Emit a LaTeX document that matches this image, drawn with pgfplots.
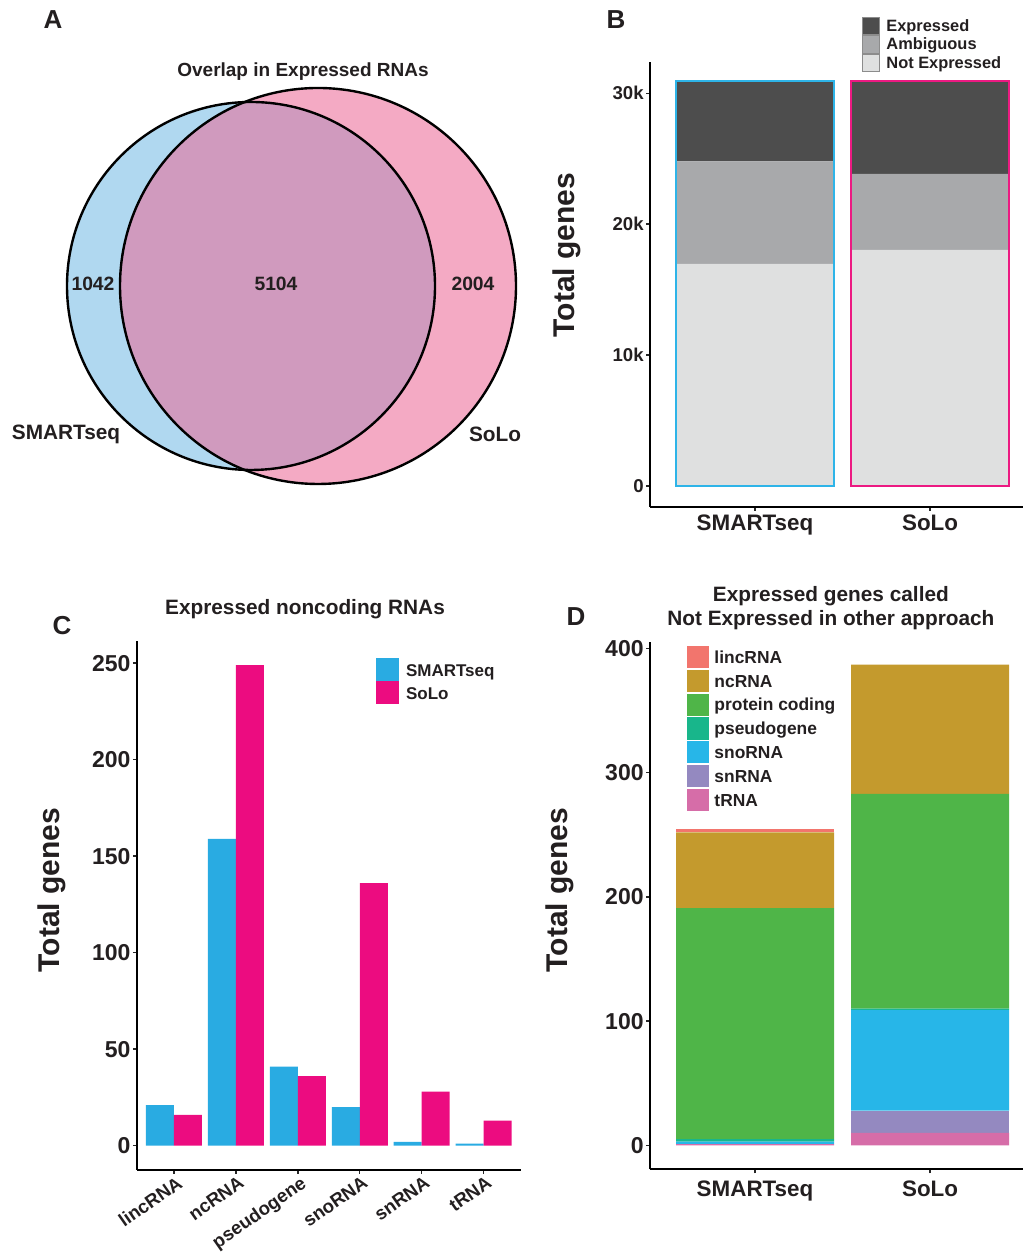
\documentclass[border=0pt]{standalone}
\usepackage{fontspec}
\setmainfont{Liberation Sans}
\usepackage{pgfplots}
\pgfplotsset{compat=1.18}
\definecolor{txt}{HTML}{231F20}
\definecolor{vblue}{RGB}{176,216,240}
\definecolor{vpink}{RGB}{244,170,196}
\definecolor{vover}{RGB}{208,154,190}
\definecolor{expr}{HTML}{4D4D4D}
\definecolor{ambi}{HTML}{A8A9AB}
\definecolor{notexp}{HTML}{DFE0E0}
\definecolor{smblue}{HTML}{29ABE2}
\definecolor{slpink}{HTML}{EC0C80}
\definecolor{oblue}{HTML}{2EB4E8}
\definecolor{opink}{HTML}{EC1A82}
\definecolor{clinc}{HTML}{F2756D}
\definecolor{cnc}{HTML}{C49A2D}
\definecolor{cprot}{HTML}{4FB548}
\definecolor{cpseudo}{HTML}{18B68B}
\definecolor{csno}{HTML}{27B6E8}
\definecolor{csn}{HTML}{9489C0}
\definecolor{ct}{HTML}{D66DA8}
\pgfplotsset{
  ggaxis/.style={
    scale only axis, anchor=south west,
    axis lines=left, axis line style={-, line width=0.9pt, black},
    tick align=outside, major tick length=2pt,
    tick style={line width=0.7pt, black!85},
    every tick label/.append style={text=txt},
    /pgf/number format/assume math mode=true,
    scaled ticks=false,
    every axis title shift=0pt,
    label style={font=\bfseries\fontsize{15}{18}\selectfont, text=txt},
    title style={font=\bfseries\fontsize{10.4}{12}\selectfont, text=txt, align=center},
  }
}
\begin{document}
\begin{tikzpicture}
\useasboundingbox (0,0) rectangle (512pt,626.5pt);

% ---------------- Panel A : Venn ----------------
\begin{axis}[scale only axis, anchor=south west, at={(0pt,376.5pt)},
  width=265pt, height=250pt, xmin=0, xmax=530, ymin=753, ymax=1253,
  hide axis, clip=false]
\pgfplotsextra{
  \fill[vblue] (axis cs:251,967) circle[radius=92pt];
  \fill[vpink] (axis cs:318,967) circle[radius=99pt];
  \begin{scope}
    \clip (axis cs:251,967) circle[radius=92pt];
    \fill[vover] (axis cs:318,967) circle[radius=99pt];
  \end{scope}
  \draw[line width=1.2pt] (axis cs:251,967) circle[radius=92pt];
  \draw[line width=1.2pt] (axis cs:318,967) circle[radius=99pt];
}
\node[font=\bfseries\fontsize{9.5}{11}\selectfont, text=txt] at (axis cs:303,1181) {Overlap in Expressed RNAs};
\node[font=\bfseries\fontsize{9.65}{11}\selectfont, text=txt] at (axis cs:93,969) {1042};
\node[font=\bfseries\fontsize{9.65}{11}\selectfont, text=txt] at (axis cs:276,969) {5104};
\node[font=\bfseries\fontsize{9.65}{11}\selectfont, text=txt] at (axis cs:473,969) {2004};
\node[font=\bfseries\fontsize{10.4}{12}\selectfont, text=txt] at (axis cs:66,819) {SMARTseq};
\node[font=\bfseries\fontsize{10.4}{12}\selectfont, text=txt] at (axis cs:495,819) {SoLo};
\end{axis}

% ---------------- Panel B ----------------
\begin{axis}[ggaxis, at={(325pt,373pt)}, width=186.5pt, height=222.5pt,
  xmin=0.4, xmax=2.531, ymin=-1604, ymax=32391,
  ybar stacked, bar width=79pt,
  xtick={1,2}, xticklabels={SMARTseq,SoLo},
  ytick={0,10000,20000,30000}, yticklabels={0,10k,20k,30k},
  xticklabel style={font=\bfseries\fontsize{11.2}{13}\selectfont, yshift=1.5pt},
  yticklabel style={font=\bfseries\fontsize{9.3}{11}\selectfont, inner sep=1pt},
  ylabel={Total genes},
  ylabel style={at={(axis description cs:-0.2225,0.566)}, anchor=center},
  reverse legend, legend cell align=left,
  legend style={at={(axis description cs:0.5676,1.1018)}, anchor=north west,
    draw=none, fill=none, inner sep=0pt, row sep=0pt,
    font=\bfseries\fontsize{8.2}{9}\selectfont, text=txt,
    nodes={inner sep=0pt, text height=7pt, text depth=1.65pt},
    /tikz/every odd column/.append style={column sep=3.15pt}},
  legend image code/.code={\draw[#1, draw=black!45, line width=0.5pt] (0pt,-4.325pt) rectangle (8.5pt,4.325pt);}
]
\addplot[fill=notexp, draw=none] coordinates {(1,16960) (2,18030)};
\addplot[fill=ambi, draw=none] coordinates {(1,7844) (2,5812)};
\addplot[fill=expr, draw=none] coordinates {(1,6146) (2,7108)};
\legend{Not Expressed, Ambiguous, Expressed}
\end{axis}
\begin{axis}[scale only axis, anchor=south west, at={(325pt,373pt)}, width=186.5pt, height=222.5pt,
  xmin=0.4, xmax=2.531, ymin=-1604, ymax=32391, hide axis, ybar, bar width=79pt]
\addplot[draw=oblue, fill=none, line width=1pt, bar shift=0pt] coordinates {(1,30950)};
\addplot[draw=opink, fill=none, line width=1pt, bar shift=0pt] coordinates {(2,30950)};
\end{axis}

% ---------------- Panel C ----------------
\begin{axis}[ggaxis, at={(68.4pt,41.65pt)}, width=192pt, height=264.35pt,
  xmin=0.4, xmax=6.6, ymin=-12.45, ymax=261.45,
  ybar=0pt, bar width=14pt,
  xtick={1,2,3,4,5,6}, xticklabels={lincRNA,ncRNA,pseudogene,snoRNA,snRNA,tRNA},
  xticklabel style={rotate=35, anchor=north east, inner sep=1pt, xshift=1.5pt,
    font=\bfseries\fontsize{9.3}{10}\selectfont},
  ytick={0,50,100,150,200,250},
  yticklabel style={font=\bfseries\fontsize{11.5}{13}\selectfont, inner sep=1pt},
  ylabel={Total genes},
  ylabel style={at={(axis description cs:-0.221,0.529)}, anchor=center},
  title={Expressed noncoding RNAs},
  title style={at={(axis description cs:0.438,1.0605)}, anchor=center},
  legend cell align=left,
  legend style={at={(axis description cs:0.623,0.968)}, anchor=north west,
    draw=none, fill=none, inner sep=0pt, row sep=0pt,
    font=\bfseries\fontsize{8.5}{10}\selectfont, text=txt,
    nodes={inner sep=0pt, text height=9pt, text depth=2.5pt},
    /tikz/every odd column/.append style={column sep=3.3pt}},
  legend image code/.code={\draw[#1, draw=none] (0pt,-5.75pt) rectangle (11.5pt,5.75pt);}
]
\addplot[fill=smblue, draw=none] coordinates {(1,21) (2,159) (3,41) (4,20) (5,2) (6,1)};
\addplot[fill=slpink, draw=none] coordinates {(1,16) (2,249) (3,36) (4,136) (5,28) (6,13)};
\legend{SMARTseq, SoLo}
\end{axis}

% ---------------- Panel D ----------------
\begin{axis}[ggaxis, at={(325pt,41.85pt)}, width=186.5pt, height=263.8pt,
  xmin=0.4, xmax=2.531, ymin=-19.3, ymax=405.5,
  ybar stacked, bar width=79pt,
  xtick={1,2}, xticklabels={SMARTseq,SoLo},
  ytick={0,100,200,300,400},
  xticklabel style={font=\bfseries\fontsize{11.2}{13}\selectfont},
  yticklabel style={font=\bfseries\fontsize{11.5}{13}\selectfont, inner sep=1pt},
  ylabel={Total genes},
  ylabel style={at={(axis description cs:-0.241,0.529)}, anchor=center},
  title={Expressed genes called\\Not Expressed in other approach},
  title style={at={(axis description cs:0.485,1.0640)}, anchor=center},
  reverse legend, legend cell align=left,
  legend style={at={(axis description cs:0.0965,0.995)}, anchor=north west,
    draw=none, fill=none, inner sep=0pt, row sep=0pt,
    font=\bfseries\fontsize{8.7}{10}\selectfont, text=txt,
    nodes={inner sep=0pt, text height=9.0pt, text depth=2.55pt},
    /tikz/every odd column/.append style={column sep=2.15pt}},
  legend image code/.code={\draw[#1, draw=white, line width=0.4pt] (0pt,-5.775pt) rectangle (11.5pt,5.775pt);}
]
\addplot[fill=ct, draw=none] coordinates {(1,1) (2,10)};
\addplot[fill=csn, draw=none] coordinates {(1,0) (2,18)};
\addplot[fill=csno, draw=none] coordinates {(1,2) (2,81)};
\addplot[fill=cpseudo, draw=none] coordinates {(1,2) (2,1)};
\addplot[fill=cprot, draw=none] coordinates {(1,186) (2,173)};
\addplot[fill=cnc, draw=none] coordinates {(1,61) (2,104)};
\addplot[fill=clinc, draw=none] coordinates {(1,3) (2,0)};
\legend{tRNA, snRNA, snoRNA, pseudogene, protein coding, ncRNA, lincRNA}
\end{axis}

% panel letters
\node[font=\bfseries\fontsize{13}{15}\selectfont, text=txt] at (26.5pt,616.5pt) {A};
\node[font=\bfseries\fontsize{13}{15}\selectfont, text=txt] at (308pt,616.5pt) {B};
\node[font=\bfseries\fontsize{13}{15}\selectfont, text=txt] at (31pt,313.5pt) {C};
\node[font=\bfseries\fontsize{13}{15}\selectfont, text=txt] at (288pt,318pt) {D};
\end{tikzpicture}
\end{document}
